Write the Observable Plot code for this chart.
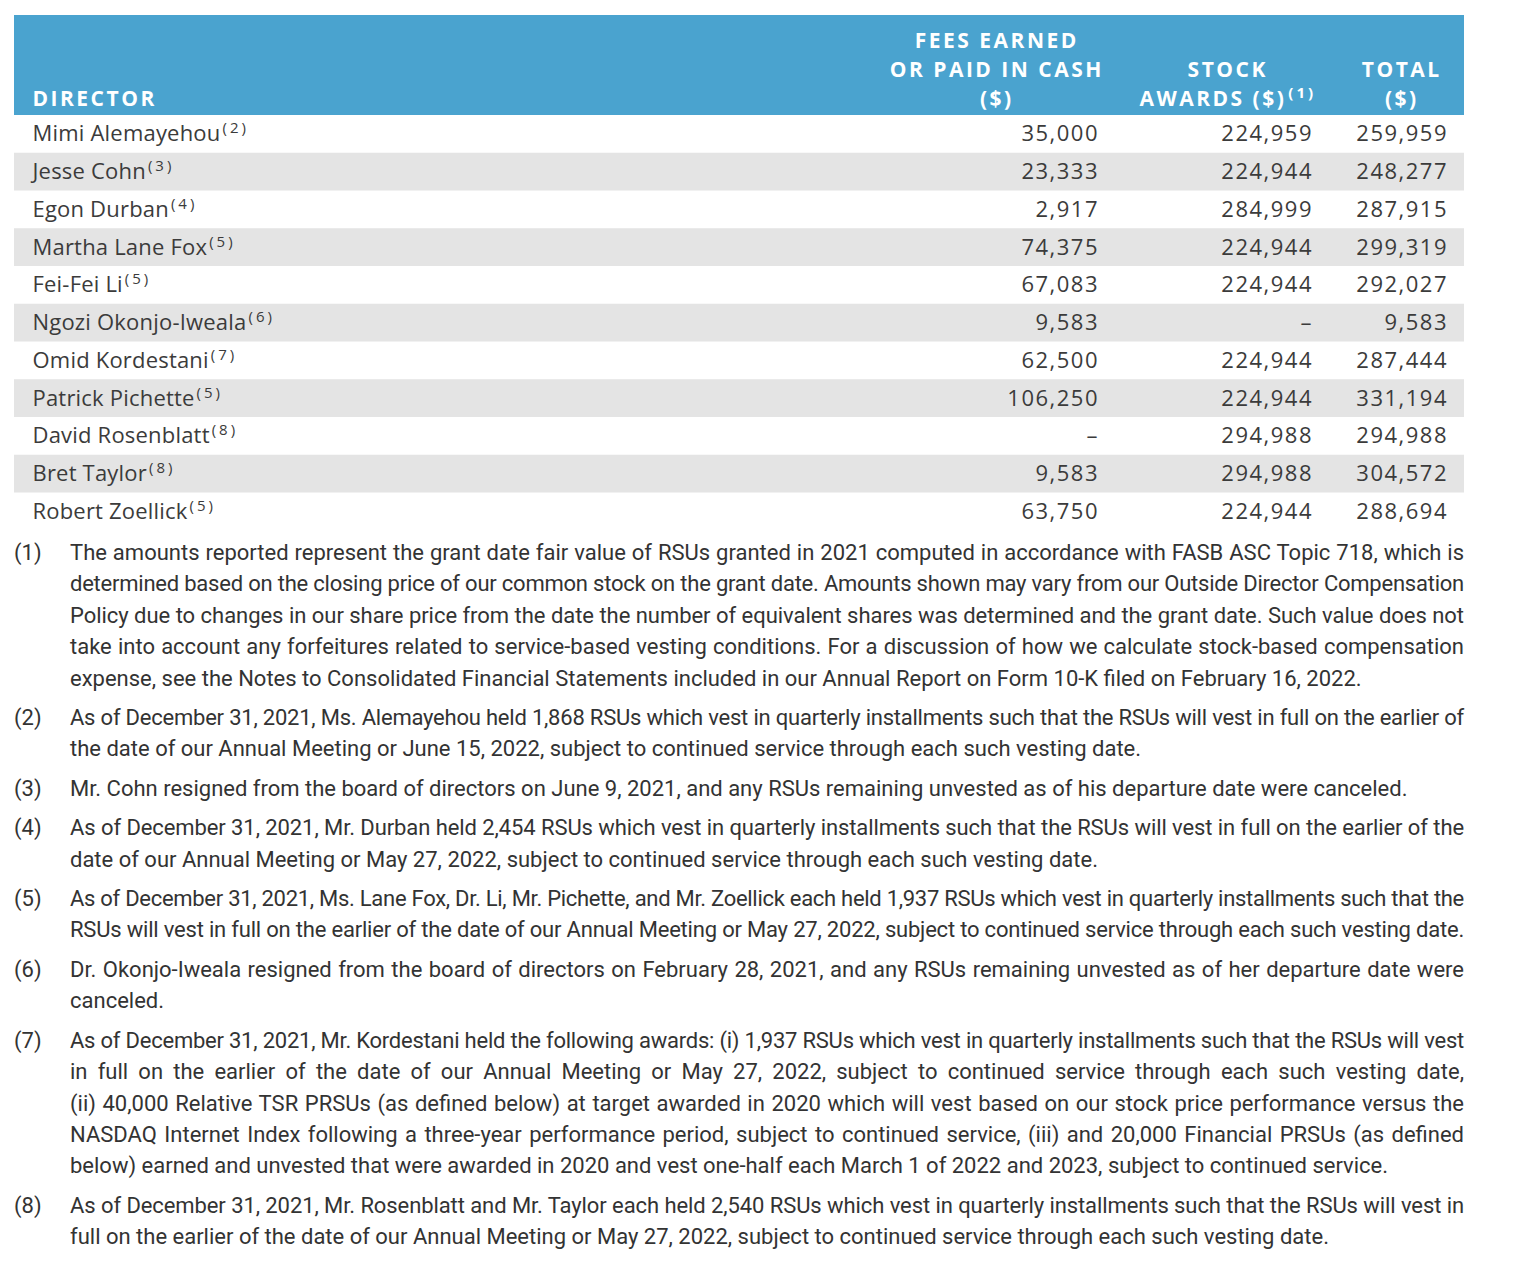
<!DOCTYPE html>
<html>
<head>
<meta charset="utf-8">
<script src="https://cdn.jsdelivr.net/npm/d3@7"></script>
<script src="https://cdn.jsdelivr.net/npm/@observablehq/plot@0.6"></script>
<style>
  html, body { margin: 0; padding: 0; background: #ffffff; }
  #wrap { width: 1534px; }
  #chart svg { display: block; }
  #notes { margin-left: 14px; width: 1450px; font-family: Roboto, "Noto Sans", sans-serif; font-size: 22px; color: #333333; }
  .fn { display: flex; margin-bottom: 8px; line-height: 31.4px; }
  .fn .num { width: 56px; flex: none; }
  .fn .body { flex: 1; min-width: 0; }
  .fn .ln { white-space: nowrap; text-align: justify; text-align-last: justify; }
  .fn .ln.last { text-align-last: left; }
</style>
</head>
<body>
<div id="wrap">
  <div id="chart"></div>
  <div id="notes"></div>
</div>
<script>
// ---------- data ----------
const directors = ["Mimi Alemayehou", "Jesse Cohn", "Egon Durban", "Martha Lane Fox", "Fei-Fei Li",
  "Ngozi Okonjo-Iweala", "Omid Kordestani", "Patrick Pichette", "David Rosenblatt", "Bret Taylor", "Robert Zoellick"];
const noteRefs = [2, 3, 4, 5, 5, 6, 7, 5, 8, 8, 5];
const feesCash = [35000, 23333, 2917, 74375, 67083, 9583, 62500, 106250, null, 9583, 63750];
const stockAwards = [224959, 224944, 284999, 224944, 224944, null, 224944, 224944, 294988, 294988, 224944];
const totals = [259959, 248277, 287915, 299319, 292027, 9583, 287444, 331194, 294988, 304572, 288694];
const columnKeys = ["fees", "stock", "total"];
const columnHeaders = ["FEES EARNED\nOR PAID IN CASH\n($)", "STOCK\nAWARDS ($)^(1)", "TOTAL\n($)"];
const directorHeader = "DIRECTOR";
const footnoteNums = ["(1)", "(2)", "(3)", "(4)", "(5)", "(6)", "(7)", "(8)"];
const footnoteLines = [
  ["The amounts reported represent the grant date fair value of RSUs granted in 2021 computed in accordance with FASB ASC Topic 718, which is",
   "determined based on the closing price of our common stock on the grant date. Amounts shown may vary from our Outside Director Compensation",
   "Policy due to changes in our share price from the date the number of equivalent shares was determined and the grant date. Such value does not",
   "take into account any forfeitures related to service-based vesting conditions. For a discussion of how we calculate stock-based compensation",
   "expense, see the Notes to Consolidated Financial Statements included in our Annual Report on Form 10-K filed on February 16, 2022."],
  ["As of December 31, 2021, Ms. Alemayehou held 1,868 RSUs which vest in quarterly installments such that the RSUs will vest in full on the earlier of",
   "the date of our Annual Meeting or June 15, 2022, subject to continued service through each such vesting date."],
  ["Mr. Cohn resigned from the board of directors on June 9, 2021, and any RSUs remaining unvested as of his departure date were canceled."],
  ["As of December 31, 2021, Mr. Durban held 2,454 RSUs which vest in quarterly installments such that the RSUs will vest in full on the earlier of the",
   "date of our Annual Meeting or May 27, 2022, subject to continued service through each such vesting date."],
  ["As of December 31, 2021, Ms. Lane Fox, Dr. Li, Mr. Pichette, and Mr. Zoellick each held 1,937 RSUs which vest in quarterly installments such that the",
   "RSUs will vest in full on the earlier of the date of our Annual Meeting or May 27, 2022, subject to continued service through each such vesting date."],
  ["Dr. Okonjo-Iweala resigned from the board of directors on February 28, 2021, and any RSUs remaining unvested as of her departure date were",
   "canceled."],
  ["As of December 31, 2021, Mr. Kordestani held the following awards: (i) 1,937 RSUs which vest in quarterly installments such that the RSUs will vest",
   "in full on the earlier of the date of our Annual Meeting or May 27, 2022, subject to continued service through each such vesting date,",
   "(ii) 40,000 Relative TSR PRSUs (as defined below) at target awarded in 2020 which will vest based on our stock price performance versus the",
   "NASDAQ Internet Index following a three-year performance period, subject to continued service, (iii) and 20,000 Financial PRSUs (as defined",
   "below) earned and unvested that were awarded in 2020 and vest one-half each March 1 of 2022 and 2023, subject to continued service."],
  ["As of December 31, 2021, Mr. Rosenblatt and Mr. Taylor each held 2,540 RSUs which vest in quarterly installments such that the RSUs will vest in",
   "full on the earlier of the date of our Annual Meeting or May 27, 2022, subject to continued service through each such vesting date."]
];
const fullLastLine = [false, false, false, false, true, false, false, false];

// ---------- layout (styles) ----------
const LAYOUT = {
  width: 1534, height: 537,
  tableLeft: 14, tableRight: 1464,
  headerTop: 15, rowTop: 115, rowH: 37.75,
  nameX: 32,
  colRight: {fees: 1097, stock: 1311, total: 1446},
  headCenter: {fees: 995, stock: 1226, total: 1400},
  blue: "#4aa3cf", stripe: "#e4e4e4", ink: "#3b3b3b",
  font: "'Open Sans', 'Noto Sans', sans-serif",
  spacing: {header: 2.5, name: 0.2, value: 1.5}
};

const rows = directors.map((name, i) => ({
  i, name: `${name}^(${noteRefs[i]})`,
  fees: feesCash[i], stock: stockAwards[i], total: totals[i]
}));
const fmt = v => v == null ? "\u2013" : d3.format(",")(v);
const nRows = rows.length;
const headerUnits = (LAYOUT.rowTop - LAYOUT.headerTop) / LAYOUT.rowH;
const headers = columnKeys.map((k, j) => ({key: k, label: columnHeaders[j]}));

const valueMarks = columnKeys.map(k => Plot.text(rows, {
  x: () => LAYOUT.colRight[k], y: d => d.i + 0.5, text: d => fmt(d[k]),
  textAnchor: "end", dx: LAYOUT.spacing.value, fontSize: 22, fill: LAYOUT.ink
}));

const chart = Plot.plot({
  width: LAYOUT.width, height: LAYOUT.height,
  margin: 0,
  style: {fontFamily: LAYOUT.font, background: "#ffffff"},
  x: {type: "identity"},
  y: {type: "linear", domain: [-headerUnits, nRows], range: [LAYOUT.headerTop, LAYOUT.rowTop + nRows * LAYOUT.rowH], axis: null},
  marks: [
    Plot.rect([0], {x1: () => LAYOUT.tableLeft, x2: () => LAYOUT.tableRight, y1: () => -headerUnits, y2: () => 0, fill: LAYOUT.blue}),
    Plot.rect(rows.filter(d => d.i % 2 === 1), {x1: () => LAYOUT.tableLeft, x2: () => LAYOUT.tableRight, y1: d => d.i, y2: d => d.i + 1, fill: LAYOUT.stripe}),
    Plot.text(rows, {x: () => LAYOUT.nameX, y: d => d.i + 0.5, text: "name", textAnchor: "start", fontSize: 22, fill: LAYOUT.ink}),
    ...valueMarks,
    Plot.text([directorHeader], {x: () => LAYOUT.nameX, y: () => 0, text: d => d, textAnchor: "start", lineAnchor: "bottom", dy: -10, fontSize: 21, fontWeight: "bold", fill: "#ffffff"}),
    Plot.text(headers, {x: d => LAYOUT.headCenter[d.key], y: () => 0, text: "label", textAnchor: "middle", lineAnchor: "bottom", lineHeight: 1.38, dy: -10, dx: LAYOUT.spacing.header / 2, fontSize: 21, fontWeight: "bold", fill: "#ffffff"})
  ]
});

// letter spacing per text group (Plot has no letterSpacing option)
d3.select(chart).selectAll("g").each(function () {
  const g = d3.select(this);
  if (g.attr("aria-label") !== "text") return;
  if (g.attr("fill") === "#ffffff") g.attr("letter-spacing", LAYOUT.spacing.header);
  else if (g.attr("text-anchor") === "end") g.attr("letter-spacing", LAYOUT.spacing.value);
  else g.attr("letter-spacing", LAYOUT.spacing.name);
});

// superscripts "^(n)" -> raised small tspan
(function superscripts(root) {
  const walker = document.createTreeWalker(root, NodeFilter.SHOW_TEXT);
  const nodes = [];
  while (walker.nextNode()) if (walker.currentNode.nodeValue.includes("^")) nodes.push(walker.currentNode);
  for (const n of nodes) {
    const [base, sup] = n.nodeValue.split("^");
    n.nodeValue = base;
    const t = document.createElementNS("http://www.w3.org/2000/svg", "tspan");
    t.setAttribute("font-size", 15);
    t.setAttribute("dy", -8);
    t.setAttribute("dx", 2);
    t.setAttribute("letter-spacing", 3);
    t.textContent = sup;
    n.parentNode.insertBefore(t, n.nextSibling);
  }
})(chart);

document.getElementById("chart").appendChild(chart);

// footnotes
const notes = document.getElementById("notes");
footnoteLines.forEach((lines, k) => {
  const p = document.createElement("div"); p.className = "fn";
  const num = document.createElement("div"); num.className = "num"; num.textContent = footnoteNums[k];
  const body = document.createElement("div"); body.className = "body";
  lines.forEach((line, j) => {
    const l = document.createElement("div");
    l.className = "ln" + (j === lines.length - 1 && !fullLastLine[k] ? " last" : "");
    l.textContent = line;
    body.appendChild(l);
  });
  p.appendChild(num); p.appendChild(body); notes.appendChild(p);
});
// squeeze any line that is wider than the column
document.querySelectorAll(".fn .ln").forEach(l => {
  const over = l.scrollWidth - l.clientWidth;
  if (over > 0) l.style.letterSpacing = (-(over + 2) / l.textContent.length).toFixed(3) + "px";
});
</script>
</body>
</html>
